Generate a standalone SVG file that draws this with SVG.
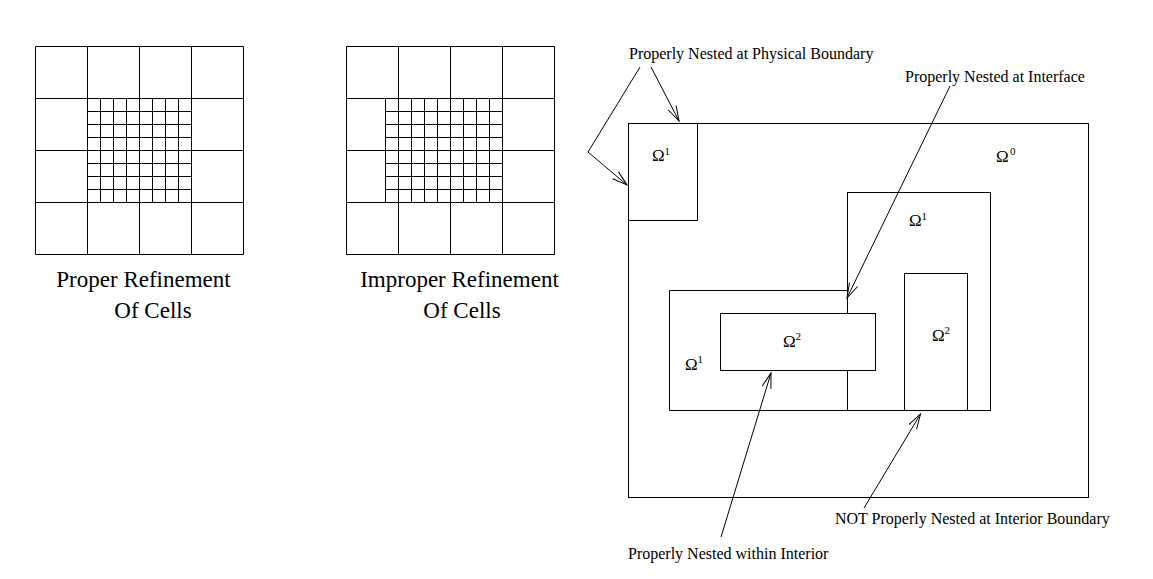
<svg xmlns="http://www.w3.org/2000/svg" width="1153" height="579" viewBox="0 0 1153 579">
<style>
.ln{stroke:#000;stroke-width:1;fill:none}
.bx{stroke:#000;stroke-width:1;fill:#fff}
.cap{font-family:"Liberation Serif","Times New Roman",serif;font-size:23px;fill:#000}
.lbl{font-family:"Liberation Serif","Times New Roman",serif;font-size:16px;fill:#000}
.om{font-family:"Liberation Serif","Times New Roman",serif;font-size:17px;fill:#000}
.sup{font-family:"Liberation Serif","Times New Roman",serif;font-size:11px;fill:#000}
</style>
<defs>
<marker id="arr" markerUnits="userSpaceOnUse" orient="auto" markerWidth="20" markerHeight="12" refX="0" refY="0" viewBox="-16 -6 18 12" overflow="visible">
<path d="M-15,-4.5 L0,0 L-15,4.5" fill="none" stroke="#000" stroke-width="1"/>
</marker>
</defs>
<rect width="1153" height="579" fill="#fff"/>
<g id="proper-grid" transform="translate(0.5,0.5)">
<path class="ln" d="M35,46H243V254H35Z M87,46V98 M139,46V98 M191,46V98 M87,202V254 M139,202V254 M191,202V254 M35,98H87 M35,150H87 M35,202H87 M191,98H243 M191,150H243 M191,202H243"/>
<path class="ln" d="M87,98V202 M100,98V202 M113,98V202 M126,98V202 M139,98V202 M152,98V202 M165,98V202 M178,98V202 M191,98V202 M87,98H191 M87,111H191 M87,124H191 M87,137H191 M87,150H191 M87,163H191 M87,176H191 M87,189H191 M87,202H191"/>
</g>
<g id="improper-grid" transform="translate(0.5,0.5)">
<path class="ln" d="M346,46H554V254H346Z M398,46V98 M450,46V98 M502,46V98 M398,202V254 M450,202V254 M502,202V254 M346,98H385 M346,150H385 M346,202H385 M502,98H554 M502,150H554 M502,202H554"/>
<path class="ln" d="M385,98V202 M398,98V202 M411,98V202 M424,98V202 M437,98V202 M450,98V202 M463,98V202 M476,98V202 M489,98V202 M502,98V202 M385,98H502 M385,111H502 M385,124H502 M385,137H502 M385,150H502 M385,163H502 M385,176H502 M385,189H502 M385,202H502"/>
</g>
<g id="caption-proper">
<text class="cap" x="143.5" y="287" text-anchor="middle">Proper Refinement</text>
<text class="cap" x="153" y="318" text-anchor="middle">Of Cells</text>
</g>
<g id="caption-improper">
<text class="cap" x="459.5" y="287" text-anchor="middle">Improper Refinement</text>
<text class="cap" x="462" y="318" text-anchor="middle">Of Cells</text>
</g>
<g id="omega0" transform="translate(0.5,0.5)">
<rect class="bx" x="628" y="123" width="460" height="374"/>
</g>
<g id="omega1-corner" transform="translate(0.5,0.5)">
<rect class="bx" x="628" y="123" width="69" height="97"/>
</g>
<g id="omega1-right" transform="translate(0.5,0.5)">
<rect class="bx" x="847" y="192" width="143" height="218"/>
</g>
<g id="omega1-left" transform="translate(0.5,0.5)">
<path class="bx" d="M669,290H847V410H669Z"/>
</g>
<g id="omega2-middle" transform="translate(0.5,0.5)">
<rect class="bx" x="720" y="313" width="155" height="57"/>
</g>
<g id="omega2-right" transform="translate(0.5,0.5)">
<rect class="bx" x="904" y="273" width="63" height="137"/>
</g>
<g id="omega-labels">
<text class="om" x="652" y="161">Ω</text><text class="sup" x="664.5" y="155">1</text>
<text class="om" x="996" y="162">Ω</text><text class="sup" x="1010" y="155">0</text>
<text class="om" x="909" y="226">Ω</text><text class="sup" x="921.5" y="220">1</text>
<text class="om" x="783" y="347">Ω</text><text class="sup" x="795.5" y="340">2</text>
<text class="om" x="685" y="370">Ω</text><text class="sup" x="697.5" y="363">1</text>
<text class="om" x="932" y="341">Ω</text><text class="sup" x="944.5" y="334">2</text>
</g>
<g id="connectors">
<polyline class="ln" points="640,67 588,152 627,185" marker-end="url(#arr)"/>
<line class="ln" x1="651" y1="67" x2="679" y2="121" marker-end="url(#arr)"/>
<line class="ln" x1="950" y1="86" x2="847" y2="298" marker-end="url(#arr)"/>
<line class="ln" x1="721" y1="537" x2="771" y2="373" marker-end="url(#arr)"/>
<line class="ln" x1="864" y1="508" x2="920.5" y2="414" marker-end="url(#arr)"/>
</g>
<g id="annotations">
<text class="lbl" x="629" y="59">Properly Nested at Physical Boundary</text>
<text class="lbl" x="905" y="82">Properly Nested at Interface</text>
<text class="lbl" x="628" y="559">Properly Nested within Interior</text>
<text class="lbl" x="835" y="524">NOT Properly Nested at Interior Boundary</text>
</g>
</svg>
